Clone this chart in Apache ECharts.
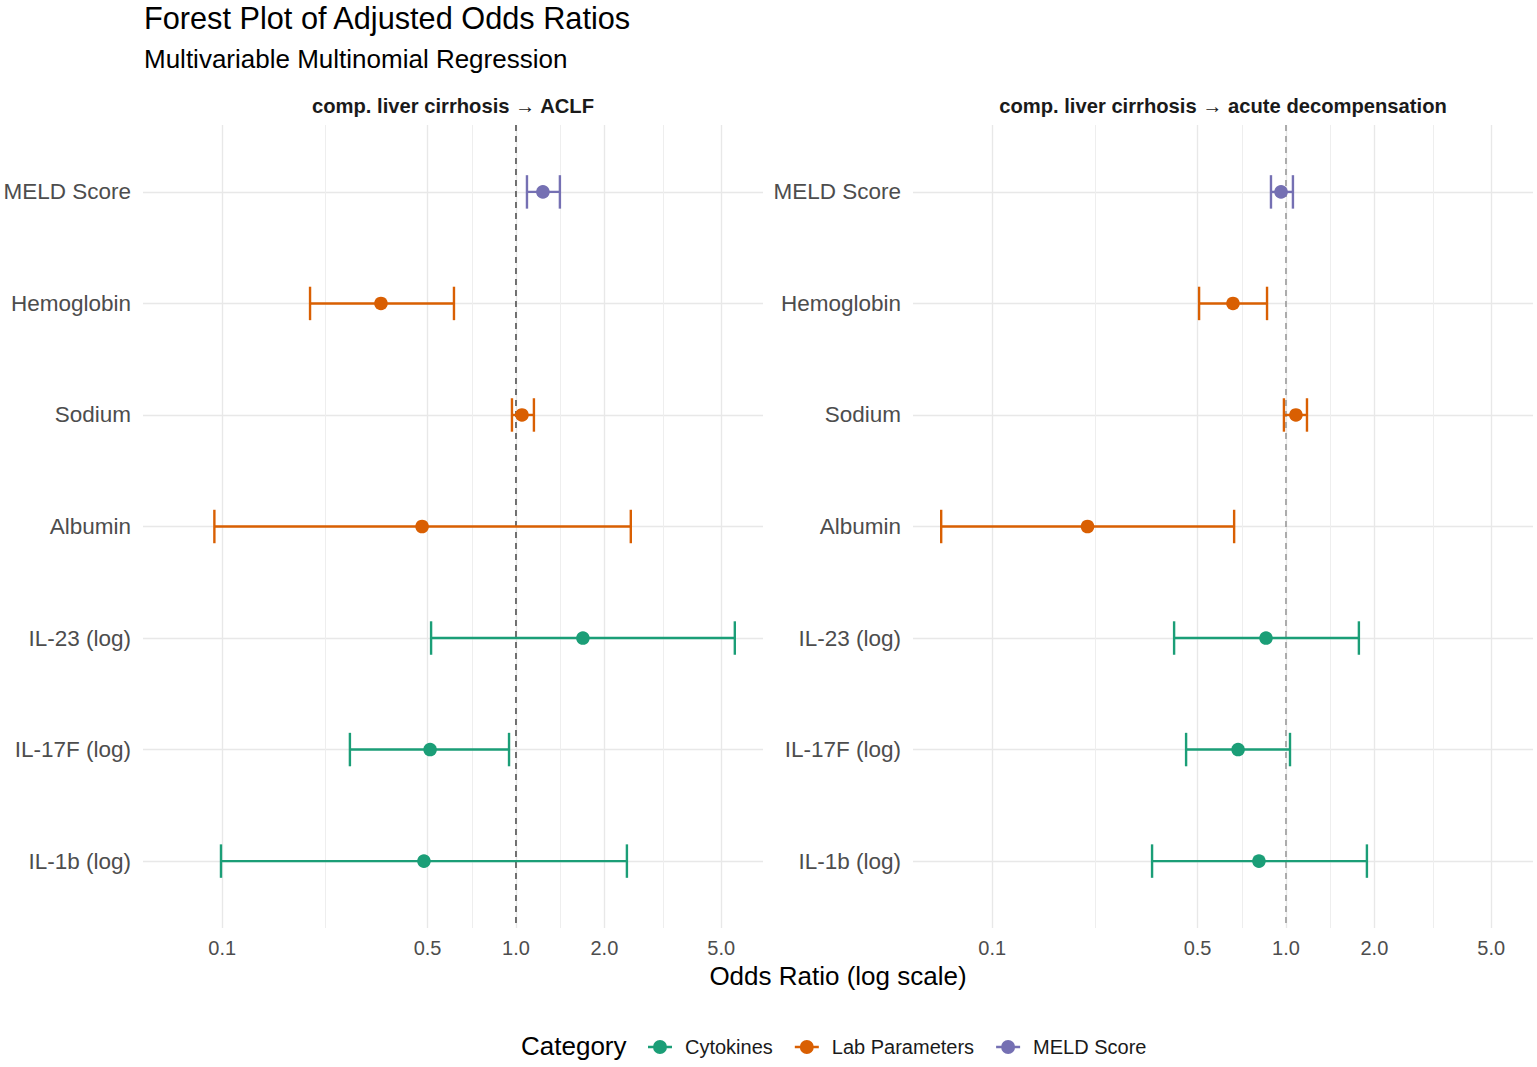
<!DOCTYPE html>
<html><head><meta charset="utf-8">
<script src="https://cdn.jsdelivr.net/npm/echarts@6/dist/echarts.min.js"></script>
<style>html,body{margin:0;padding:0;background:#fff}#c{width:1537px;height:1067px}</style>
</head><body><div id="c"></div>
<script>
// ---- data ----
const categories = ['MELD Score','Hemoglobin','Sodium','Albumin','IL-23 (log)','IL-17F (log)','IL-1b (log)'];
const variableGroup = ['MELD Score','Lab Parameters','Lab Parameters','Lab Parameters','Cytokines','Cytokines','Cytokines'];
const groups = ['Cytokines','Lab Parameters','MELD Score'];
const groupColors = ['#1B9E77','#D95F02','#7570B3'];
const panels = ['comp. liver cirrhosis \u2192 ACLF','comp. liver cirrhosis \u2192 acute decompensation'];
const aclfOR    = [1.235, 0.347, 1.048, 0.479, 1.69, 0.510, 0.486];
const aclfLower = [1.090, 0.199, 0.969, 0.094, 0.514, 0.272, 0.099];
const aclfUpper = [1.411, 0.615, 1.151, 2.46, 5.56, 0.947, 2.386];
const adOR      = [0.962, 0.660, 1.081, 0.211, 0.855, 0.687, 0.809];
const adLower   = [0.889, 0.506, 0.984, 0.067, 0.416, 0.457, 0.350];
const adUpper   = [1.056, 0.862, 1.179, 0.666, 1.771, 1.032, 1.886];
const xTicks = [0.1, 0.5, 1.0, 2.0, 5.0];
const xTickLabels = ['0.1','0.5','1.0','2.0','5.0'];
const refOR = 1;

// ---- scales ----
const L = Math.log10;
const allLow = aclfLower.concat(adLower).map(L);
const allHigh = aclfUpper.concat(adUpper).map(L);
const lo = Math.min(...allLow), hi = Math.max(...allHigh);
const pad = 0.05 * (hi - lo);
const xMin = lo - pad, xMax = hi + pad;
const majorLog = xTicks.map(L);
const minorLog = [];
for (let i = 0; i < majorLog.length - 1; i++) minorLog.push((majorLog[i] + majorLog[i+1]) / 2);
const yIdx = categories.map((c, i) => i);

const FONT = '"Liberation Sans", Arial, Helvetica, sans-serif';
const panelData = [[aclfOR, aclfLower, aclfUpper], [adOR, adLower, adUpper]];
const gridLefts = [143, 913];
const refColors = ['#3a3a3a', '#8f8f8f'];

const grids = [], xAxes = [], yAxes = [], series = [];
panels.forEach((p, k) => {
  grids.push({left: gridLefts[k], width: 620, top: 125, height: 803, containLabel: false, outerBoundsMode: 'none'});
  xAxes.push({
    type: 'value', gridIndex: k, min: xMin, max: xMax,
    axisLine: {show: false}, axisTick: {show: false, customValues: majorLog},
    axisLabel: {customValues: majorLog, color: '#4d4d4d', fontSize: 20, fontFamily: FONT, margin: 10,
      formatter: v => { let j = 0, d = 1e9; majorLog.forEach((m, i) => { if (Math.abs(m - v) < d) { d = Math.abs(m - v); j = i; } }); return xTickLabels[j]; }},
    splitLine: {show: true, lineStyle: {color: '#e8e8e8', width: 1.4}}
  });
  xAxes.push({
    type: 'value', gridIndex: k, min: xMin, max: xMax,
    axisLine: {show: false}, axisTick: {show: false, customValues: minorLog},
    axisLabel: {show: false},
    splitLine: {show: true, lineStyle: {color: '#eeeeee', width: 1}}
  });
  yAxes.push({
    type: 'value', gridIndex: k, min: -0.6, max: 6.6, inverse: true,
    axisLine: {show: false}, axisTick: {show: false, customValues: yIdx},
    axisLabel: {customValues: yIdx, color: '#4d4d4d', fontSize: 22.5, fontFamily: FONT, margin: 12,
      formatter: v => categories[Math.round(v)]},
    splitLine: {show: true, lineStyle: {color: '#e8e8e8', width: 1.4}}
  });
  series.push({
    type: 'custom', name: 'ref' + k, xAxisIndex: 2 * k, yAxisIndex: k, z: 1, silent: true,
    data: [[L(refOR), 0]], encode: {x: 0, y: 1},
    renderItem: (params, api) => {
      const x = api.coord([api.value(0), 0])[0];
      const cs = params.coordSys;
      return {type: 'line', shape: {x1: x, y1: cs.y, x2: x, y2: cs.y + cs.height},
        style: {stroke: refColors[k], lineWidth: 1.4, lineDash: [6, 5]}};
    }
  });
  const [orA, loA, hiA] = panelData[k];
  groups.forEach((g, gi) => {
    const data = [];
    categories.forEach((c, i) => {
      if (variableGroup[i] === g) data.push([L(orA[i]), L(loA[i]), L(hiA[i]), i]);
    });
    series.push({
      type: 'custom', name: g, xAxisIndex: 2 * k, yAxisIndex: k, z: 3,
      itemStyle: {color: groupColors[gi]},
      data: data, encode: {x: [0, 1, 2], y: 3},
      renderItem: (params, api) => {
        const y = api.value(3);
        const pL = api.coord([api.value(1), y]);
        const pH = api.coord([api.value(2), y]);
        const pM = api.coord([api.value(0), y]);
        const cap = api.size([0, 0.3])[1] / 2;
        const color = api.visual('color');
        const st = {stroke: color, lineWidth: 2.4, fill: null};
        return {type: 'group', children: [
          {type: 'line', shape: {x1: pL[0], y1: pL[1], x2: pH[0], y2: pH[1]}, style: st},
          {type: 'line', shape: {x1: pL[0], y1: pL[1] - cap, x2: pL[0], y2: pL[1] + cap}, style: st},
          {type: 'line', shape: {x1: pH[0], y1: pH[1] - cap, x2: pH[0], y2: pH[1] + cap}, style: st},
          {type: 'circle', shape: {cx: pM[0], cy: pM[1], r: 6.8}, style: {fill: color}}
        ]};
      }
    });
  });
});

const legendIcon = 'path://M0,6 L24,6 L24,8.4 L0,8.4 Z M5,7.2 A7,7 0 1,1 19,7.2 A7,7 0 1,1 5,7.2 Z';

const option = {
  animation: false,
  backgroundColor: '#ffffff',
  grid: grids, xAxis: xAxes, yAxis: yAxes, series: series,
  legend: {
    data: groups.map(g => ({name: g, icon: legendIcon})),
    left: 643, top: 1032, orient: 'horizontal',
    itemWidth: 24, itemHeight: 14, itemGap: 22,
    textStyle: {fontSize: 20, color: '#1a1a1a', fontFamily: FONT, padding: [0, 0, 0, 8]}
  },
  graphic: [
    {type: 'text', left: 144, top: 3, style: {text: 'Forest Plot of Adjusted Odds Ratios', fontSize: 30.7, fontFamily: FONT, fill: '#000'}},
    {type: 'text', left: 144, top: 46, style: {text: 'Multivariable Multinomial Regression', fontSize: 26, fontFamily: FONT, fill: '#000'}},
    {type: 'text', x: gridLefts[0] + 310, y: 106, style: {text: panels[0], fontSize: 20.2, fontWeight: 'bold', fontFamily: FONT, fill: '#1a1a1a', align: 'center', verticalAlign: 'middle'}},
    {type: 'text', x: gridLefts[1] + 310, y: 106, style: {text: panels[1], fontSize: 20.2, fontWeight: 'bold', fontFamily: FONT, fill: '#1a1a1a', align: 'center', verticalAlign: 'middle'}},
    {type: 'text', x: 838, y: 976, style: {text: 'Odds Ratio (log scale)', fontSize: 26, fontFamily: FONT, fill: '#000', align: 'center', verticalAlign: 'middle'}},
    {type: 'text', x: 521, y: 1046, style: {text: 'Category', fontSize: 26, fontFamily: FONT, fill: '#000', align: 'left', verticalAlign: 'middle'}}
  ]
};
const chart = echarts.init(document.getElementById('c'), null, {renderer: 'svg'});
chart.setOption(option);
</script></body></html>
